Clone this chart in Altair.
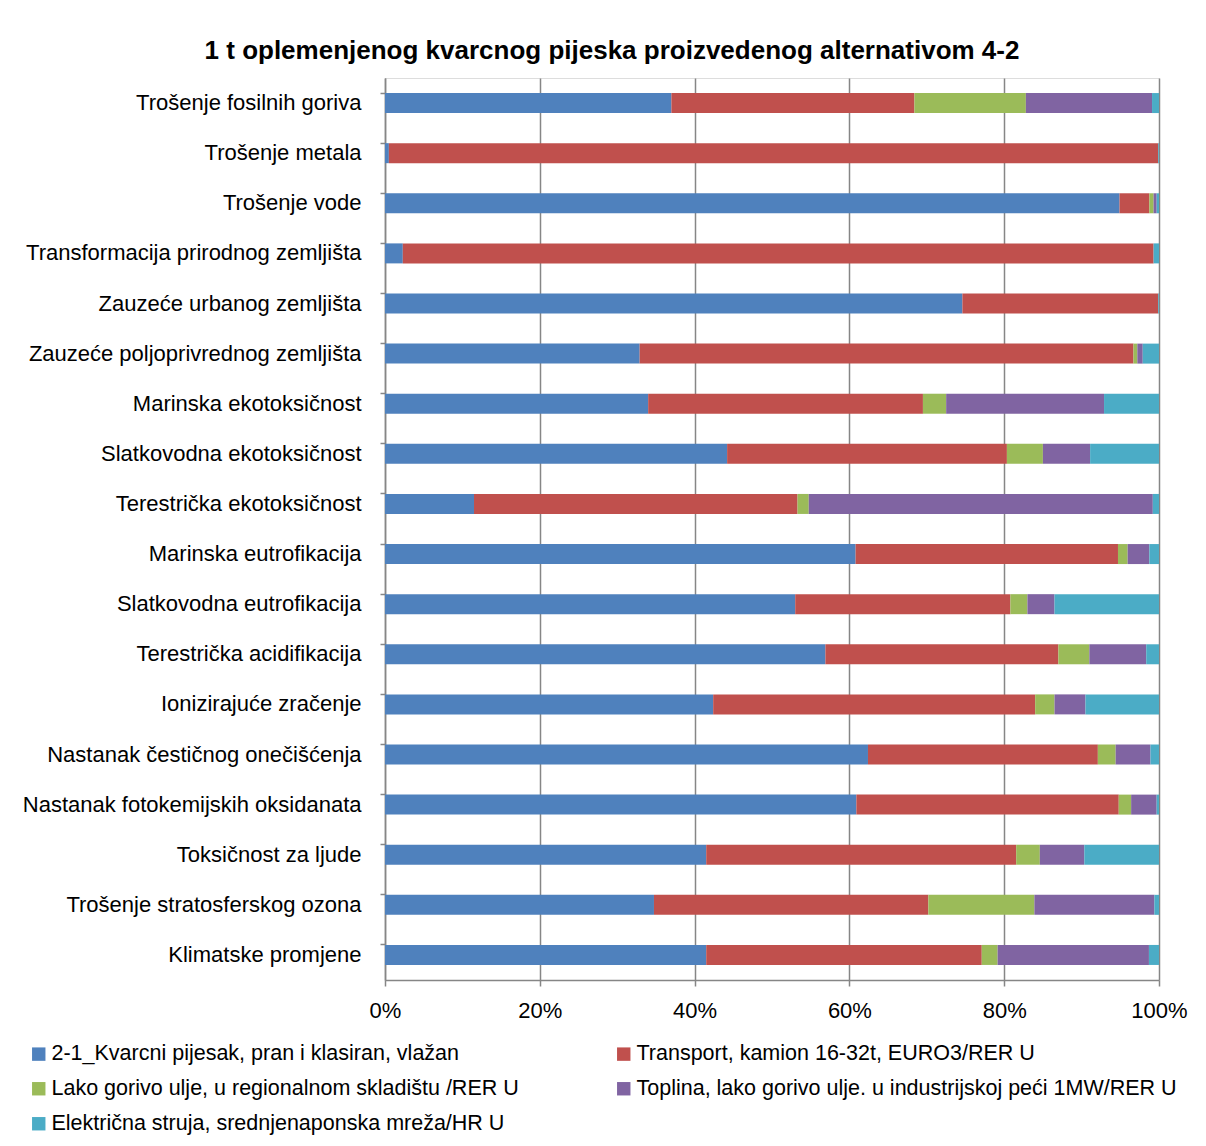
import altair as alt
import pandas as pd

categories = [
    "Trošenje fosilnih goriva",
    "Trošenje metala",
    "Trošenje vode",
    "Transformacija prirodnog zemljišta",
    "Zauzeće urbanog zemljišta",
    "Zauzeće poljoprivrednog zemljišta",
    "Marinska ekotoksičnost",
    "Slatkovodna ekotoksičnost",
    "Terestrička ekotoksičnost",
    "Marinska eutrofikacija",
    "Slatkovodna eutrofikacija",
    "Terestrička acidifikacija",
    "Ionizirajuće zračenje",
    "Nastanak čestičnog onečišćenja",
    "Nastanak fotokemijskih oksidanata",
    "Toksičnost za ljude",
    "Trošenje stratosferskog ozona",
    "Klimatske promjene",
]

series = [
    "2-1_Kvarcni pijesak, pran i klasiran, vlažan",
    "Transport, kamion 16-32t, EURO3/RER U",
    "Lako gorivo ulje, u regionalnom skladištu /RER U",
    "Toplina, lako gorivo ulje. u industrijskoj peći 1MW/RER U",
    "Električna struja, srednjenaponska mreža/HR U",
]

kvarcni = [37.0, 0.5, 94.9, 2.3, 74.6, 32.9, 34.0, 44.2, 11.5, 60.8, 53.0, 56.9, 42.4, 62.4, 60.9, 41.5, 34.75, 41.5]
transport = [31.4, 99.4, 3.85, 97.0, 25.3, 63.8, 35.5, 36.15, 41.8, 33.9, 27.8, 30.1, 41.6, 29.7, 33.9, 40.05, 35.45, 35.6]
gorivo = [14.4, 0.0, 0.55, 0.0, 0.0, 0.5, 3.0, 4.65, 1.45, 1.25, 2.2, 4.0, 2.5, 2.3, 1.6, 3.05, 13.7, 2.05]
toplina = [16.3, 0.0, 0.4, 0.0, 0.0, 0.7, 20.4, 6.1, 44.45, 2.8, 3.5, 7.35, 4.0, 4.5, 3.3, 5.75, 15.5, 19.55]
struja = [0.9, 0.1, 0.3, 0.7, 0.1, 2.1, 7.1, 8.9, 0.8, 1.25, 13.5, 1.65, 9.5, 1.1, 0.3, 9.65, 0.6, 1.3]

colors = ["#4F81BD", "#C0504D", "#9BBB59", "#8064A2", "#4BACC6"]

values = [kvarcni, transport, gorivo, toplina, struja]
rows = []
for i, cat in enumerate(categories):
    for j, name in enumerate(series):
        rows.append({"kategorija": cat, "izvor": name, "udio": values[j][i], "red": j})
df = pd.DataFrame(rows)

FONT = "Liberation Sans"

chart = (
    alt.Chart(df)
    .mark_bar(size=20)
    .encode(
        y=alt.Y(
            "kategorija:N",
            sort=categories,
            title=None,
            scale=alt.Scale(paddingInner=0.6, paddingOuter=0.3),
            axis=alt.Axis(
                labelFont=FONT,
                labelFontSize=22,
                labelColor="#000000",
                labelLimit=500,
                labelPadding=19,
                tickSize=5,
                tickColor="#868686",
                tickWidth=1.5,
                domainColor="#868686",
                domainWidth=1.5,
                bandPosition=0,
                grid=False,
            ),
        ),
        x=alt.X(
            "udio:Q",
            stack="normalize",
            title=None,
            scale=alt.Scale(domain=[0, 1], nice=False),
            axis=alt.Axis(
                values=[0, 0.2, 0.4, 0.6, 0.8, 1.0],
                format=".0%",
                labelFont=FONT,
                labelFontSize=22,
                labelColor="#000000",
                labelPadding=14,
                labelFlush=False,
                tickSize=6,
                tickColor="#868686",
                tickWidth=1.5,
                domainColor="#868686",
                domainWidth=1.5,
                grid=True,
                gridColor="#868686",
                gridWidth=1.5,
            ),
        ),
        color=alt.Color(
            "izvor:N",
            sort=series,
            scale=alt.Scale(domain=series, range=colors),
            legend=alt.Legend(
                title=None,
                orient="none",
                direction="horizontal",
                legendX=-357,
                legendY=965,
                columns=2,
                columnPadding=94,
                rowPadding=12,
                symbolType="square",
                symbolSize=180,
                symbolStrokeWidth=0,
                labelFont=FONT,
                labelFontSize=21.5,
                labelColor="#000000",
                labelLimit=600,
                labelOffset=2,
            ),
        ),
        order=alt.Order("red:Q", sort="ascending"),
    )
    .properties(
        width=774,
        height=902,
        title=alt.TitleParams(
            "1 t oplemenjenog kvarcnog pijeska proizvedenog alternativom 4-2",
            font=FONT,
            fontSize=26,
            fontWeight="bold",
            color="#000000",
            anchor="middle",
            dx=-160,
            offset=14,
        ),
        padding={"left": 377, "top": 70, "right": 39, "bottom": 158},
        autosize=alt.AutoSizeParams(type="none"),
    )
    .configure_view(stroke=None)
    .configure(background="white")
)

chart.save("out.html", embed_options={"renderer": "svg", "actions": False})
